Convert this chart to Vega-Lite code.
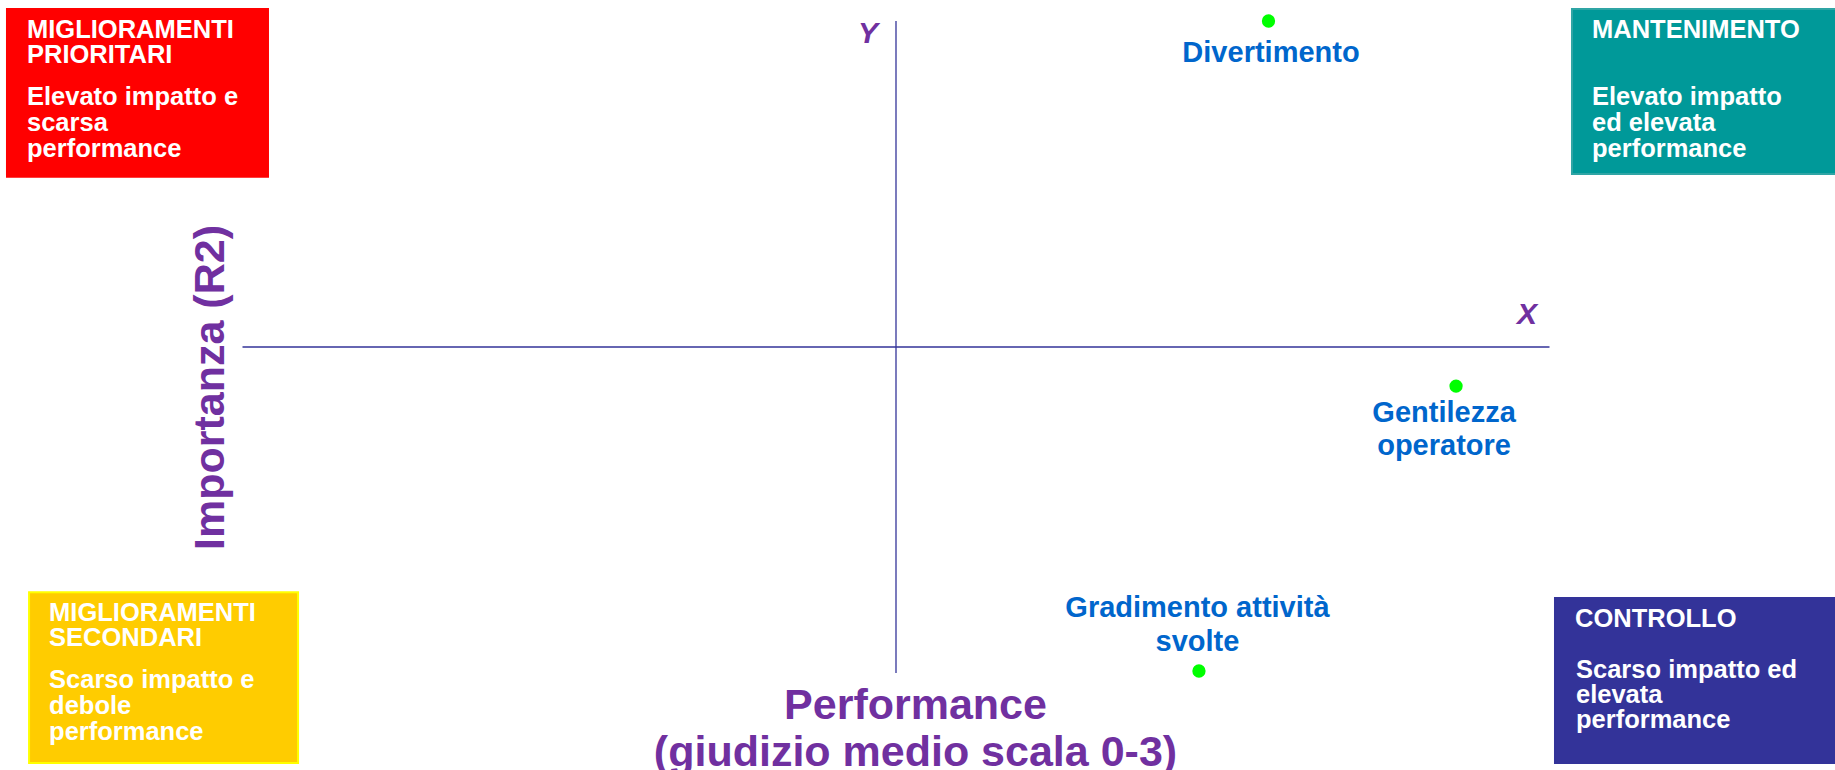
{
  "$schema": "https://vega.github.io/schema/vega-lite/v6.json",
  "width": 1835,
  "height": 770,
  "autosize": "none",
  "padding": 0,
  "background": "white",
  "config": {"view": {"stroke": null}, "axis": {"disable": true}, "font": "Liberation Sans"},
  "datasets": {
    "items": [
      {"item": "Divertimento", "label": "Divertimento", "performance": 2.785, "importanza": 0.400},
      {"item": "Gentilezza operatore", "label": "Gentilezza\noperatore", "performance": 2.9285, "importanza": 0.288},
      {"item": "Gradimento attività svolte", "label": "Gradimento attività\nsvolte", "performance": 2.7318, "importanza": 0.2006}
    ],
    "quadrants": [
      {"quadrante": "Miglioramenti prioritari", "heading": "MIGLIORAMENTI\nPRIORITARI", "body": "Elevato impatto e\nscarsa\nperformance", "perf_from": 1.8198, "perf_to": 2.0195, "imp_from": 0.3522, "imp_to": 0.4037},
      {"quadrante": "Mantenimento", "heading": "MANTENIMENTO", "body": "Elevato impatto\ned elevata\nperformance", "perf_from": 3.0172, "perf_to": 3.23, "imp_from": 0.3531, "imp_to": 0.4037},
      {"quadrante": "Miglioramenti secondari", "heading": "MIGLIORAMENTI\nSECONDARI", "body": "Scarso impatto e\ndebole\nperformance", "perf_from": 1.8367, "perf_to": 2.0425, "imp_from": 0.1724, "imp_to": 0.2248},
      {"quadrante": "Controllo", "heading": "CONTROLLO", "body": "Scarso impatto ed\nelevata\nperformance", "perf_from": 3.0042, "perf_to": 3.23, "imp_from": 0.1724, "imp_to": 0.2230}
    ],
    "reference": [
      {"performance_media": 2.5, "importanza_media": 0.30, "performance_min": 2.0, "performance_max": 3.0, "importanza_min": 0.20, "importanza_max": 0.40}
    ]
  },
  "layer": [
    {
      "data": {"name": "quadrants"},
      "mark": {"type": "rect", "strokeWidth": 2},
      "encoding": {
        "x": {"field": "perf_from", "type": "quantitative", "scale": {"domain": [1.81446, 3.21844], "nice": false, "zero": false}, "axis": null},
        "x2": {"field": "perf_to"},
        "y": {"field": "imp_to", "type": "quantitative", "scale": {"domain": [0.17024, 0.40644], "nice": false, "zero": false}, "axis": null},
        "y2": {"field": "imp_from"},
        "fill": {"field": "quadrante", "type": "nominal", "legend": null,
          "scale": {"domain": ["Miglioramenti prioritari", "Mantenimento", "Miglioramenti secondari", "Controllo"], "range": ["#FF0000", "#009999", "#FFCC00", "#333399"]}},
        "stroke": {"field": "quadrante", "type": "nominal", "legend": null,
          "scale": {"domain": ["Miglioramenti prioritari", "Mantenimento", "Miglioramenti secondari", "Controllo"], "range": ["#FF0000", "#2FA5A5", "#FFFF00", "#333399"]}}
      }
    },
    {
      "data": {"name": "quadrants"},
      "mark": {"type": "text", "align": "left", "baseline": "alphabetic", "dx": 20, "dy": 29, "lineBreak": "\n", "lineHeight": 25, "fontSize": 25.5, "fontWeight": "bold", "color": "white", "font": "Liberation Sans"},
      "encoding": {
        "x": {"field": "perf_from", "type": "quantitative"},
        "y": {"field": "imp_to", "type": "quantitative"},
        "text": {"field": "heading"}
      }
    },
    {
      "data": {"name": "quadrants"},
      "transform": [{"filter": "datum.quadrante != 'Controllo'"}],
      "mark": {"type": "text", "align": "left", "baseline": "alphabetic", "dx": 20, "dy": 96, "lineBreak": "\n", "lineHeight": 26, "fontSize": 25.5, "fontWeight": "bold", "color": "white", "font": "Liberation Sans"},
      "encoding": {
        "x": {"field": "perf_from", "type": "quantitative"},
        "y": {"field": "imp_to", "type": "quantitative"},
        "text": {"field": "body"}
      }
    },
    {
      "data": {"name": "quadrants"},
      "transform": [{"filter": "datum.quadrante == 'Controllo'"}],
      "mark": {"type": "text", "align": "left", "baseline": "alphabetic", "dx": 21, "dy": 80, "lineBreak": "\n", "lineHeight": 25, "fontSize": 25.5, "fontWeight": "bold", "color": "white", "font": "Liberation Sans"},
      "encoding": {
        "x": {"field": "perf_from", "type": "quantitative"},
        "y": {"field": "imp_to", "type": "quantitative"},
        "text": {"field": "body"}
      }
    },
    {
      "data": {"name": "reference"},
      "mark": {"type": "rule", "color": "#333399", "strokeWidth": 1.3},
      "encoding": {"x": {"field": "performance_min", "type": "quantitative"}, "x2": {"field": "performance_max"}, "y": {"field": "importanza_media", "type": "quantitative"}}
    },
    {
      "data": {"name": "reference"},
      "mark": {"type": "rule", "color": "#333399", "strokeWidth": 1.3},
      "encoding": {"x": {"field": "performance_media", "type": "quantitative"}, "y": {"field": "importanza_min", "type": "quantitative"}, "y2": {"field": "importanza_max"}}
    },
    {
      "data": {"name": "reference"},
      "mark": {"type": "text", "text": "Y", "align": "center", "baseline": "alphabetic", "dx": -28, "dy": 22, "fontSize": 30, "fontWeight": "bold", "fontStyle": "italic", "color": "#7030A0", "font": "Liberation Sans"},
      "encoding": {"x": {"field": "performance_media", "type": "quantitative"}, "y": {"field": "importanza_max", "type": "quantitative"}}
    },
    {
      "data": {"name": "reference"},
      "mark": {"type": "text", "text": "X", "align": "center", "baseline": "alphabetic", "dx": -22.5, "dy": -23, "fontSize": 30, "fontWeight": "bold", "fontStyle": "italic", "color": "#7030A0", "font": "Liberation Sans"},
      "encoding": {"x": {"field": "performance_max", "type": "quantitative"}, "y": {"field": "importanza_media", "type": "quantitative"}}
    },
    {
      "data": {"name": "reference"},
      "mark": {"type": "text", "text": ["Performance", "(giudizio medio scala 0-3)"], "align": "center", "baseline": "alphabetic", "dx": 19.5, "dy": 46, "lineHeight": 47, "fontSize": 43, "fontWeight": "bold", "color": "#7030A0", "font": "Liberation Sans"},
      "encoding": {"x": {"field": "performance_media", "type": "quantitative"}, "y": {"field": "importanza_min", "type": "quantitative"}}
    },
    {
      "data": {"name": "reference"},
      "mark": {"type": "text", "text": "Importanza (R2)", "angle": 270, "align": "center", "baseline": "alphabetic", "dx": -40.5, "dy": -19, "fontSize": 43, "fontWeight": "bold", "color": "#7030A0", "font": "Liberation Sans"},
      "encoding": {"x": {"field": "performance_min", "type": "quantitative"}, "y": {"field": "importanza_media", "type": "quantitative"}}
    },
    {
      "data": {"name": "items"},
      "mark": {"type": "circle", "size": 177, "opacity": 1, "color": "#00FF00"},
      "encoding": {
        "x": {"field": "performance", "type": "quantitative"},
        "y": {"field": "importanza", "type": "quantitative"}
      }
    },
    {
      "data": {"name": "items"},
      "transform": [{"filter": "datum.item == 'Divertimento'"}],
      "mark": {"type": "text", "align": "center", "baseline": "alphabetic", "dx": 2.5, "dy": 41, "lineBreak": "\n", "lineHeight": 34, "fontSize": 29, "fontWeight": "bold", "color": "#0066CC", "font": "Liberation Sans"},
      "encoding": {
        "x": {"field": "performance", "type": "quantitative"},
        "y": {"field": "importanza", "type": "quantitative"},
        "text": {"field": "label"}
      }
    },
    {
      "data": {"name": "items"},
      "transform": [{"filter": "datum.item == 'Gentilezza operatore'"}],
      "mark": {"type": "text", "align": "center", "baseline": "alphabetic", "dx": -12, "dy": 36, "lineBreak": "\n", "lineHeight": 33, "fontSize": 29, "fontWeight": "bold", "color": "#0066CC", "font": "Liberation Sans"},
      "encoding": {
        "x": {"field": "performance", "type": "quantitative"},
        "y": {"field": "importanza", "type": "quantitative"},
        "text": {"field": "label"}
      }
    },
    {
      "data": {"name": "items"},
      "transform": [{"filter": "datum.item == 'Gradimento attività svolte'"}],
      "mark": {"type": "text", "align": "center", "baseline": "alphabetic", "dx": -1.5, "dy": -54, "lineBreak": "\n", "lineHeight": 34, "fontSize": 29, "fontWeight": "bold", "color": "#0066CC", "font": "Liberation Sans"},
      "encoding": {
        "x": {"field": "performance", "type": "quantitative"},
        "y": {"field": "importanza", "type": "quantitative"},
        "text": {"field": "label"}
      }
    }
  ]
}
